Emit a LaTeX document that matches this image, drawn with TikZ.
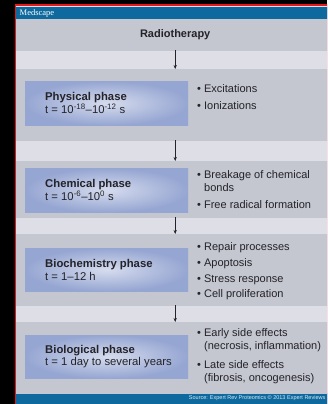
\documentclass[tikz,border=0pt]{standalone}
\usepackage{fontspec}
\setmainfont{Liberation Sans}
\newfontfamily\logofont{Liberation Serif}
\usetikzlibrary{arrows.meta,positioning,calc}

\definecolor{msblue}{RGB}{14,106,158}
\definecolor{msred}{RGB}{232,22,22}
\definecolor{bandgrey}{RGB}{196,198,208}
\definecolor{bandlight}{RGB}{214,216,224}
\definecolor{gapgrey}{RGB}{221,222,230}
\definecolor{boxblue}{RGB}{150,166,210}
\definecolor{boxlight}{RGB}{214,220,238}
\definecolor{ink}{RGB}{35,35,40}

\begin{document}
\begin{tikzpicture}[x=1pt,y=-1pt,
	band/.style={rectangle, anchor=north west, minimum width=318pt, inner sep=0pt,
		top color=bandgrey, middle color=bandlight, bottom color=bandgrey},
	phasebox/.style={rectangle, anchor=west, inner color=boxlight, outer color=boxblue,
		minimum width=163pt, minimum height=44pt, inner sep=0pt},
	phasetext/.style={anchor=west, inner sep=0pt, align=left, text=ink,
		font=\fontsize{11.3}{12.5}\selectfont},
	itemlist/.style={anchor=north west, inner sep=0pt, align=left, text=ink,
		font=\fontsize{11}{13}\selectfont},
	flow/.style={-{Stealth[length=4pt,width=3.2pt]}, line width=0.6pt, draw=ink}
]
	% Frame of the slide
	\useasboundingbox (0,0) rectangle (327,404);
	\clip (0,0) rectangle (327,404);
	\fill[black] (0,0) rectangle (327,404);
	\fill[msred] (14.5,4.5) rectangle (340,410);
	\fill[gapgrey] (16,6.5) rectangle (340,410);
	
	% Header and footer bars
	\node[rectangle, fill=msblue, anchor=north west, minimum width=320pt,
		minimum height=12.5pt, inner sep=0pt] (header) at (16,6.5) {};
	\node[anchor=west, inner sep=0pt, text=white,
		font=\logofont\fontsize{8.5}{9}\selectfont] (logo) at (19.5,13) {Medscape};
	\node[rectangle, fill=msblue, anchor=north west, minimum width=320pt,
		minimum height=12pt, inner sep=0pt] (footer) at (16,393) {};
	\node[anchor=east, inner sep=0pt, text=white!85!msblue,
		font=\fontsize{5.5}{6}\selectfont] (source) at (325.5,398.5)
		{Source: Expert Rev Proteomics \textcopyright{} 2013 Expert Reviews};
	
	% Bands
	\node[band, minimum height=31pt, text=ink,
		font=\bfseries\fontsize{11}{13}\selectfont] (radio) at (16,19) {Radiotherapy};
	\node[band, minimum height=71pt] (physband) at (16,69) {};
	\node[band, minimum height=56pt] (chemband) at (16,161) {};
	\node[band, minimum height=71pt] (biochband) at (16,234) {};
	\node[band, minimum height=71pt] (biolband) at (16,322) {};
	
	% Phase boxes
	\node[phasebox] (physbox) at ($(physband.west)+(9,-1.5)$) {};
	\node[phasebox] (chembox) at ($(chemband.west)+(9,1)$) {};
	\node[phasebox, minimum height=43pt] (biochbox) at ($(biochband.west)+(9,0)$) {};
	\node[phasebox, minimum height=43pt] (biolbox) at ($(biolband.west)+(9,-1)$) {};
	
	\node[phasetext] (phystext) at ($(physbox.west)+(20,0)$)
		{\textbf{Physical phase}\\t = 10\textsuperscript{-18}--10\textsuperscript{-12} s};
	\node[phasetext] (chemtext) at ($(chembox.west)+(20,0)$)
		{\textbf{Chemical phase}\\t = 10\textsuperscript{-6}--10\textsuperscript{0} s};
	\node[phasetext] (biochtext) at ($(biochbox.west)+(20,0)$)
		{\textbf{Biochemistry phase}\\t = 1--12 h};
	\node[phasetext] (bioltext) at ($(biolbox.west)+(20,0)$)
		{\textbf{Biological phase}\\t = 1 day to several years};
	
	% What happens in each phase
	\def\hang{\hspace*{7pt}}
	\node[itemlist] (physlist) at (197,84.5)
		{\textbullet\ Excitations\\[4pt]\textbullet\ Ionizations};
	\node[itemlist] (chemlist) at (197,170.5)
		{\textbullet\ Breakage of chemical\\\hang bonds\\[4pt]%
		\textbullet\ Free radical formation};
	\node[itemlist] (biochlist) at (197,242.5)
		{\textbullet\ Repair processes\\[2.7pt]\textbullet\ Apoptosis\\[2.7pt]%
		\textbullet\ Stress response\\[2.7pt]\textbullet\ Cell proliferation};
	\node[itemlist] (biollist) at (197,328.5)
		{\textbullet\ Early side effects\\\hang(necrosis, inflammation)\\[6pt]%
		\textbullet\ Late side effects\\\hang(fibrosis, oncogenesis)};
	
	% Arrows down the bands
	\foreach \a/\b in {radio/physband, physband/chemband, chemband/biochband, biochband/biolband}
		\draw[flow] (\a.south) -- (\b.north);
\end{tikzpicture}
\end{document}
